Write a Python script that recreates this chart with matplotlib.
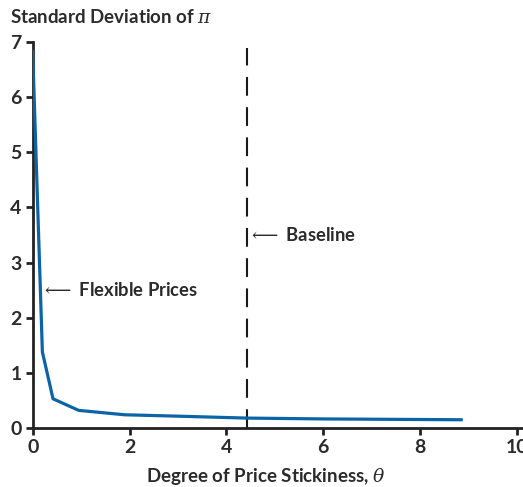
import matplotlib
matplotlib.use("Agg")
import matplotlib.pyplot as plt

theta = [0.0, 0.2, 0.42, 0.95, 1.9, 3.0, 4.43, 6.0, 8.85]
std_pi = [6.83, 1.38, 0.53, 0.32, 0.24, 0.215, 0.18, 0.165, 0.15]
baseline_theta = 4.43
x_ticks = [0, 2, 4, 6, 8, 10]
y_ticks = [0, 1, 2, 3, 4, 5, 6, 7]

plt.rcParams['font.family'] = ['Lato', 'DejaVu Sans']
plt.rcParams['mathtext.fontset'] = 'dejavuserif'

text_color = '#2b2b2b'
blue = '#0b64a6'

fig = plt.figure(figsize=(5.23, 4.87), dpi=100)
ax = fig.add_axes([0.0625, 0.1211, 0.935, 0.7927])

ax.plot(theta, std_pi, color=blue, lw=2.3, solid_joinstyle='round', zorder=3)
ax.axvline(baseline_theta, ymax=0.985, color='#1a1a1a', lw=1.5, dashes=(9, 5.5), zorder=2)

ax.set_xlim(0, 10.1)
ax.set_ylim(0, 7)
ax.set_xticks(x_ticks)
ax.set_yticks(y_ticks)
for s in ['top', 'right']:
    ax.spines[s].set_visible(False)
for s in ['left', 'bottom']:
    ax.spines[s].set_linewidth(2)
    ax.spines[s].set_color('#222222')
ax.tick_params(direction='out', length=5, width=2, color='#222222',
               labelsize=14, labelcolor=text_color, pad=3)
for lab in ax.get_xticklabels() + ax.get_yticklabels():
    lab.set_fontweight('bold')

fig.text(10/523, 1 - 17/487, r"Standard Deviation of $\pi$", fontsize=13.5,
         fontweight='bold', color=text_color, ha='left', va='center')
ax.set_xlabel(r"Degree of Price Stickiness, $\theta$", fontsize=13.5,
              fontweight='bold', color=text_color)
ax.xaxis.set_label_coords((266 - 32.7) / (0.935 * 523), -0.098)

ax.text(0.17, 2.5, r"$\longleftarrow$ Flexible Prices", fontsize=13.2,
        fontweight='bold', color=text_color, ha='left', va='center')
ax.text(4.44, 3.5, r"$\longleftarrow$ Baseline", fontsize=13.2,
        fontweight='bold', color=text_color, ha='left', va='center')

fig.savefig("out.png", dpi=100)
